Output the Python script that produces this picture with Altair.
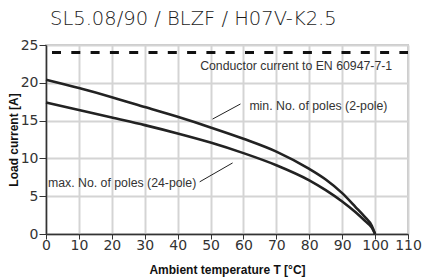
import altair as alt
import pandas as pd

temps = [0, 10, 20, 30, 40, 50, 60, 70, 80, 85, 90, 94, 97, 99, 100]
min_poles = [20.4, 19.3, 18.1, 16.8, 15.5, 14.1, 12.6, 10.9, 8.6, 7.2, 5.4, 3.6, 2.2, 1.1, 0.0]
max_poles = [17.4, 16.4, 15.4, 14.4, 13.3, 12.1, 10.7, 9.1, 7.1, 5.8, 4.3, 2.9, 1.7, 0.85, 0.0]
conductor_limit = 24
x_ticks = list(range(0, 111, 10))
y_ticks = [0, 5, 10, 15, 20, 25]

rows = []
for t, a, b in zip(temps, min_poles, max_poles):
    rows.append({"T": t, "I": a, "s": "min"})
    rows.append({"T": t, "I": b, "s": "max"})
df = pd.DataFrame(rows)

FONT = "Liberation Sans"
WIDE = "DejaVu Sans"
DARK = "#333333"

xs = alt.Scale(domain=[0, 110], nice=False, zero=False)
ys = alt.Scale(domain=[0, 25], nice=False)
x_axis = alt.Axis(values=x_ticks, title="Ambient temperature T [°C]", format="d",
                  tickSize=5, labelPadding=-1, titlePadding=12)
y_axis = alt.Axis(values=y_ticks, title="Load current [A]", format="d",
                  tickSize=7, labelPadding=1, titlePadding=0)


def X(field):
    return alt.X(field, type="quantitative", scale=xs, axis=x_axis)


def Y(field):
    return alt.Y(field, type="quantitative", scale=ys, axis=y_axis)


lines = alt.Chart(df).mark_line(color="#222222", strokeWidth=2.6, interpolate="monotone").encode(
    x=X("T"), y=Y("I"), detail="s:N",
)

limit_df = pd.DataFrame({"T": [0], "T2": [110], "I": [conductor_limit]})
dashed = alt.Chart(limit_df).mark_rule(color="#111111", strokeWidth=3, strokeDash=[9, 10.3],
                                       strokeDashOffset=13.3).encode(
    x=X("T"), x2="T2:Q", y=Y("I")
)

ptr_df = pd.DataFrame({
    "x": [50.6, 46.7], "x2": [59.1, 56.7],
    "y": [15.2, 6.9], "y2": [17.2, 9.4],
})
pointers = alt.Chart(ptr_df).mark_rule(color="#222222", strokeWidth=1).encode(
    x=X("x"), x2="x2:Q", y=Y("y"), y2="y2:Q"
)

lab_right = pd.DataFrame({"x": [105.2], "y": [22.2], "t": ["Conductor current to EN 60947-7-1"]})
lab_left = pd.DataFrame({"x": [61.8, 0.6], "y": [16.9, 6.7],
                         "t": ["min. No. of poles (2-pole)", "max. No. of poles (24-pole)"]})
txt_r = alt.Chart(lab_right).mark_text(align="right", baseline="middle", font=FONT, fontSize=12.3,
                                       color=DARK).encode(x=X("x"), y=Y("y"), text="t:N")
txt_l = alt.Chart(lab_left).mark_text(align="left", baseline="middle", font=FONT, fontSize=12.3,
                                      color=DARK).encode(x=X("x"), y=Y("y"), text="t:N")

chart = alt.layer(dashed, lines, pointers, txt_r, txt_l).properties(
    width=362, height=189,
    title=alt.TitleParams("SL5.08/90 / BLZF / H07V-K2.5", anchor="start", frame="group",
                          font=WIDE, fontSize=19.5, fontWeight=300, color="#1a1a1a", dx=4, offset=9),
    autosize=alt.AutoSizeParams(type="none"),
    padding={"left": 38, "top": 37, "right": 20, "bottom": 46},
).configure_view(
    stroke="#c8c8c8", strokeWidth=2
).configure_axis(
    grid=True, gridColor="#d4d4d4", gridWidth=2,
    domainColor=DARK, domainWidth=1.5,
    tickColor=DARK, tickWidth=1,
    labelFont=WIDE, labelFontSize=14, labelColor=DARK, labelOverlap=False, labelFlush=False,
    titleFont=FONT, titleFontSize=12, titleFontWeight="bold", titleColor="#111111",
)

chart.save("out.html", embed_options={"renderer": "svg", "actions": False})
